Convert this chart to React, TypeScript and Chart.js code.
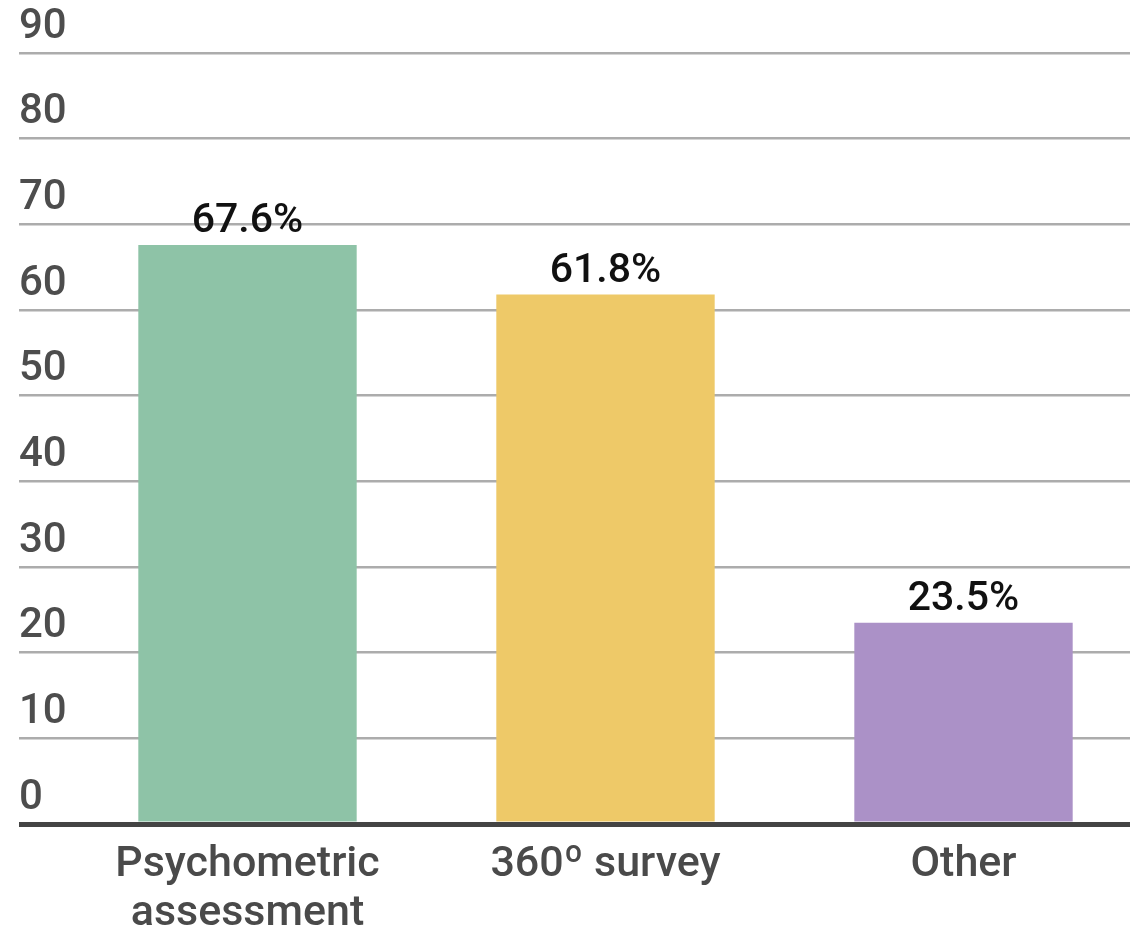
import { useEffect, useRef } from 'react';
import { Chart, registerables } from 'chart.js';

Chart.register(...registerables);

// Survey categories (multi-line label as an array)
const categories: (string | string[])[] = [['Psychometric', 'assessment'], '360º survey', 'Other'];
// Share of respondents, in percent
const shares = [67.6, 61.8, 23.5];
const barColors = ['#8ec3a7', '#eec968', '#ab91c7'];
const yMin = 0;
const yMax = 90;
const yStep = 10;

const FONT = 'Roboto';

// Writes the percentage above each bar
const valueLabels = {
  id: 'valueLabels',
  afterDatasetsDraw(chart: Chart) {
    const ctx = chart.ctx;
    const meta = chart.getDatasetMeta(0);
    ctx.save();
    ctx.font = `500 41px ${FONT}`;
    ctx.fillStyle = '#111111';
    ctx.textAlign = 'center';
    ctx.textBaseline = 'alphabetic';
    meta.data.forEach((bar: any, i: number) => {
      ctx.fillText(`${shares[i].toFixed(1)}%`, bar.x, bar.y - 13);
    });
    ctx.restore();
  },
};

export default function App() {
  const canvasRef = useRef<HTMLCanvasElement | null>(null);

  useEffect(() => {
    if (!canvasRef.current) return;
    const chart = new Chart(canvasRef.current, {
      type: 'bar',
      data: {
        labels: categories,
        datasets: [
          {
            data: shares,
            backgroundColor: barColors,
            borderWidth: 0,
            barPercentage: 1,
            categoryPercentage: 0.61,
          },
        ],
      },
      options: {
        responsive: false,
        devicePixelRatio: 1,
        animation: false,
        layout: { padding: { left: 19, right: 0.5, top: 53, bottom: 0 } },
        plugins: {
          legend: { display: false },
          tooltip: { enabled: false },
        },
        scales: {
          x: {
            type: 'category',
            offset: true,
            grid: { display: false, drawTicks: false },
            border: { display: true, color: '#444444', width: 5, z: 1 },
            ticks: {
              color: '#4a4a4a',
              padding: 17,
              maxRotation: 0,
              autoSkip: false,
              font: { family: FONT, size: 43, weight: '500', lineHeight: 1.13 },
            },
            afterFit: (scale: any) => {
              scale.height = 107;
            },
          },
          y: {
            min: yMin,
            max: yMax,
            border: { display: false },
            grid: {
              color: (c: any) => (c.tick && c.tick.value === 0 ? '#444444' : '#acacac'),
              lineWidth: (c: any) => (c.tick && c.tick.value === 0 ? 5 : 2.5),
              drawTicks: true,
              tickLength: 49.5,
            },
            ticks: {
              stepSize: yStep,
              crossAlign: 'far',
              labelOffset: -26,
              padding: 0,
              color: '#4d4d4d',
              font: { family: FONT, size: 42, weight: '500' },
            },
            afterFit: (scale: any) => {
              scale.width = 49.5;
            },
          },
        },
      },
      plugins: [valueLabels],
    });
    return () => chart.destroy();
  }, []);

  return (
    <div
      style={{
        position: 'fixed',
        left: 0,
        top: 0,
        width: '100vw',
        height: '100vh',
        overflow: 'hidden',
        background: '#ffffff',
      }}
    >
      <canvas ref={canvasRef} width={1143} height={931} style={{ display: 'block' }} />
    </div>
  );
}
